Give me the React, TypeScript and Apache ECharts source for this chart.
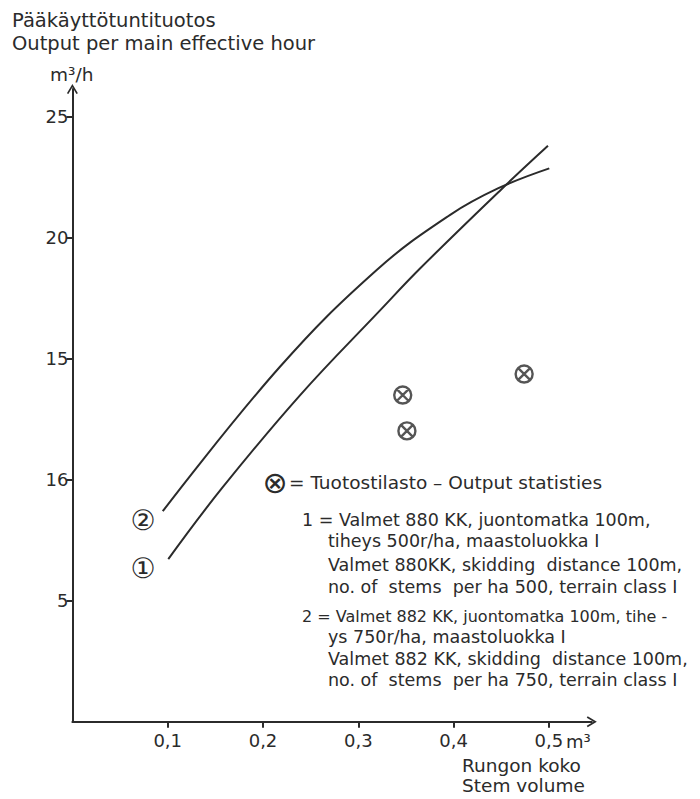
import React, { useEffect, useRef } from "react";
import * as echarts from "echarts";

// Curve 1: Valmet 880 KK (lower, steeper)
const curve1X = [0.1006, 0.1567, 0.239, 0.3228, 0.365, 0.45, 0.499];
const curve1Y = [6.72, 9.64, 13.5, 17.0, 18.74, 22.0, 23.8];
// Curve 2: Valmet 882 KK (upper, flatter)
const curve2X = [0.0948, 0.2178, 0.3193, 0.396, 0.447, 0.5004];
const curve2Y = [8.7, 14.67, 18.67, 20.94, 22.05, 22.87];
// Output statistics points
const statsX = [0.3466, 0.351, 0.474];
const statsY = [13.5, 12.02, 14.37];

const xTickValues = [0.1, 0.2, 0.3, 0.4, 0.5];
const xTickLabels = ["0,1", "0,2", "0,3", "0,4", "0,5"];
const yTickValues = [5, 10, 15, 20, 25];
const yTickLabels = ["5", "16", "15", "20", "25"];

const titleLines = ["Pääkäyttötuntituotos", "Output per main effective hour"];
const yUnit = "m³/h";
const xUnit = "m³";
const xTitleLines = ["Rungon koko", "Stem volume"];
const legendStatsMark = "⊗";
const legendStats = "= Tuotostilasto – Output statisties";
const legend1 = [
  "1 = Valmet 880 KK, juontomatka 100m,",
  "tiheys 500r/ha, maastoluokka I",
  "Valmet 880KK, skidding  distance 100m,",
  "no. of  stems  per ha 500, terrain class I",
];
const legend2 = [
  "2 = Valmet 882 KK, juontomatka 100m, tihe -",
  "ys 750r/ha, maastoluokka I",
  "Valmet 882 KK, skidding  distance 100m,",
  "no. of  stems  per ha 750, terrain class I",
];
const curveMarks = ["①", "②"];

const INK = "#2b2b2b";
const FONT = '"DejaVu Sans", "Noto Sans", sans-serif';

const ARROW = "path://M0,0 L6,10 L4.4,11 L0,3.6 L-4.4,11 L-6,10 Z";
const OTIMES =
  "path://M0,-10 A10,10 0 1,1 0,10 A10,10 0 1,1 0,-10 Z M-7,-7 L7,7 M7,-7 L-7,7";

export default function App() {
  const ref = useRef<HTMLDivElement>(null);
  useEffect(() => {
    if (!ref.current) return;
    const chart = echarts.init(ref.current, null, { renderer: "svg" });
    const txt = (text: string, x: number, y: number, size = 17, align = "left") => ({
      type: "text",
      x,
      y,
      style: {
        text,
        fill: INK,
        font: `${size}px ${FONT}`,
        align,
        verticalAlign: "middle",
      },
    });
    const graphics: any[] = [];
    graphics.push(txt(titleLines[0], 12, 20, 19.5));
    graphics.push(txt(titleLines[1], 12, 43, 19.5));
    graphics.push(txt(yUnit, 50, 74, 18.5));
    graphics.push(txt(xUnit, 566, 741, 18));
    graphics.push(txt(xTitleLines[0], 462, 765, 18.5));
    graphics.push(txt(xTitleLines[1], 462, 785, 18.5));
    graphics.push(txt(legendStatsMark, 275, 482, 30, "center"));
    graphics.push(txt(legendStats, 289, 482, 18.5));
    const l1y = [520, 541, 565, 587];
    const l2y = [616, 637, 659, 680];
    legend1.forEach((s, i) => graphics.push(txt(s, i === 0 ? 302 : 328, l1y[i], 17.5)));
    legend2.forEach((s, i) =>
      graphics.push(txt(s, i === 0 ? 302 : 328, l2y[i], i === 0 ? 16 : 17.5))
    );
    graphics.push(txt(curveMarks[0], 143, 568, 28, "center"));
    graphics.push(txt(curveMarks[1], 143, 520, 28, "center"));

    const lineSeries = (xs: number[], ys: number[]) => ({
      type: "line",
      data: xs.map((x, i) => [x, ys[i]]),
      smooth: 0.4,
      showSymbol: false,
      symbol: "none",
      lineStyle: { color: INK, width: 2 },
    });

    chart.setOption({
      animation: false,
      backgroundColor: "#ffffff",
      grid: { left: 72.4, right: 108.2, top: 89, bottom: 77.3, containLabel: false },
      xAxis: {
        type: "value",
        min: 0,
        max: 0.545,
        splitLine: { show: false },
        axisLine: {
          show: true,
          lineStyle: { color: INK, width: 2 },
          symbol: ["none", ARROW],
          symbolSize: [11, 12],
        },
        axisTick: {
          show: true,
          customValues: xTickValues,
          length: 6,
          lineStyle: { color: INK, width: 2 },
        },
        axisLabel: {
          customValues: xTickValues,
          formatter: (v: number) => {
            const i = xTickValues.findIndex((t) => Math.abs(t - v) < 1e-6);
            return i >= 0 ? xTickLabels[i] : "";
          },
          color: INK,
          fontSize: 18,
          fontFamily: FONT,
          margin: 10,
        },
      },
      yAxis: {
        type: "value",
        min: 0,
        max: 26.15,
        splitLine: { show: false },
        axisLine: {
          show: true,
          lineStyle: { color: INK, width: 2 },
          symbol: ["none", ARROW],
          symbolSize: [11, 12],
        },
        axisTick: {
          show: true,
          customValues: yTickValues,
          length: 6,
          lineStyle: { color: INK, width: 2 },
        },
        axisLabel: {
          customValues: yTickValues,
          formatter: (v: number) => {
            const i = yTickValues.findIndex((t) => Math.abs(t - v) < 1e-6);
            return i >= 0 ? yTickLabels[i] : "";
          },
          color: INK,
          fontSize: 18,
          fontFamily: FONT,
          margin: 4,
        },
      },
      series: [
        lineSeries(curve1X, curve1Y),
        lineSeries(curve2X, curve2Y),
        {
          type: "scatter",
          data: statsX.map((x, i) => [x, statsY[i]]),
          symbol: OTIMES,
          symbolSize: 17,
          itemStyle: { color: "transparent", borderColor: INK, borderWidth: 2.4 },
        },
      ],
      graphic: graphics,
    });
    return () => chart.dispose();
  }, []);
  return (
    <div
      ref={ref}
      style={{ position: "absolute", left: 0, top: 0, width: 700, height: 799 }}
    />
  );
}
